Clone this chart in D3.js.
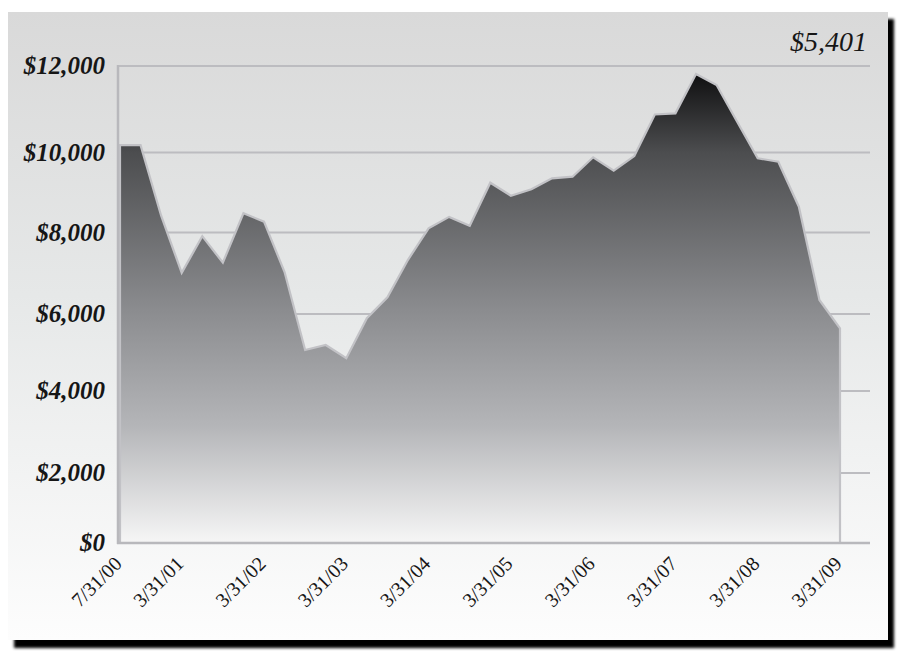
<!DOCTYPE html>
<html>
<head>
<meta charset="utf-8">
<script src="https://cdn.jsdelivr.net/npm/d3@7"></script>
<style>
  html, body { margin: 0; padding: 0; background: #fff; }
  svg { display: block; }
</style>
</head>
<body>
<div id="chart"></div>
<script>
// quarter-end dates, one point each (category axis, evenly spaced)
const dates = ["7/31/00","9/30/00","12/31/00",
  "3/31/01","6/30/01","9/30/01","12/31/01",
  "3/31/02","6/30/02","9/30/02","12/31/02",
  "3/31/03","6/30/03","9/30/03","12/31/03",
  "3/31/04","6/30/04","9/30/04","12/31/04",
  "3/31/05","6/30/05","9/30/05","12/31/05",
  "3/31/06","6/30/06","9/30/06","12/31/06",
  "3/31/07","6/30/07","9/30/07","12/31/07",
  "3/31/08","6/30/08","9/30/08","12/31/08",
  "3/31/09"];

const values = [10170, 10170, 8420,
  7010, 7910, 7260, 8480,
  8270, 7030, 5065, 5195,
  4850, 5890, 6410, 7330,
  8105, 8390, 8170, 9245,
  8920, 9080, 9355, 9395,
  9880, 9545, 9910, 10880,
  10905, 11815, 11560, 10710,
  9855, 9770, 8645, 6345,
  5630];

const tickLabels = ["7/31/00","3/31/01","3/31/02","3/31/03","3/31/04",
  "3/31/05","3/31/06","3/31/07","3/31/08","3/31/09"];
const yTicks = [0, 2000, 4000, 6000, 8000, 10000, 12000];
const lastLabel = "$5,401";

const W = 897, H = 651;
const svg = d3.select("#chart").append("svg")
  .attr("width", W).attr("height", H);

const defs = svg.append("defs");

var bg = defs.append("linearGradient").attr("id", "bg")
  .attr("x1", 0).attr("y1", 0).attr("x2", 0).attr("y2", 1);
bg.append("stop").attr("offset", "0%").attr("stop-color", "#d9d9d9");
bg.append("stop").attr("offset", "45%").attr("stop-color", "#e6e8e8");
bg.append("stop").attr("offset", "100%").attr("stop-color", "#fdfdfd");

var fillGrad = defs.append("linearGradient").attr("id", "areaFill")
  .attr("gradientUnits", "userSpaceOnUse")
  .attr("x1", 0).attr("y1", 72).attr("x2", 0).attr("y2", 543);
fillGrad.append("stop").attr("offset", "0%").attr("stop-color", "#0e0e0f");
fillGrad.append("stop").attr("offset", "17%").attr("stop-color", "#4c4d4f");
fillGrad.append("stop").attr("offset", "50%").attr("stop-color", "#8a8b8e");
fillGrad.append("stop").attr("offset", "75%").attr("stop-color", "#b4b5b8");
fillGrad.append("stop").attr("offset", "100%").attr("stop-color", "#f6f6f6");

var blur = defs.append("filter").attr("id", "blur")
  .attr("x", "-5%").attr("y", "-5%").attr("width", "110%").attr("height", "110%");
blur.append("feGaussianBlur").attr("stdDeviation", 1.5);

// card + drop shadow
svg.append("rect")
  .attr("x", 14).attr("y", 19).attr("width", 880).attr("height", 629)
  .attr("fill", "#000").attr("filter", "url(#blur)");
svg.append("rect")
  .attr("x", 8).attr("y", 12).attr("width", 880).attr("height", 628)
  .attr("fill", "url(#bg)");

// scales
const x = d3.scalePoint().domain(dates).range([120, 840]);
// the gridlines in the original are not quite evenly spaced
const y = d3.scaleLinear().domain(yTicks)
  .range([543, 473, 391, 314, 232.5, 152.5, 66]);

const gridColor = "#bcbcc0";

// gridlines
svg.append("g")
  .selectAll("line")
  .data(yTicks.filter(d => d > 0))
  .join("line")
  .attr("x1", 118).attr("x2", 870)
  .attr("y1", d => y(d)).attr("y2", d => y(d))
  .attr("stroke", gridColor).attr("stroke-width", 2.2);

// area
const area = d3.area()
  .x((d, i) => x(dates[i]))
  .y0(y(0))
  .y1(d => y(d));

svg.append("path")
  .datum(values)
  .attr("d", area)
  .attr("fill", "url(#areaFill)")
  .attr("stroke", "#c2c2c6")
  .attr("stroke-width", 2.2)
  .attr("stroke-linejoin", "miter");

// axes lines
svg.append("line")
  .attr("x1", 118).attr("x2", 118).attr("y1", y(12000) - 1).attr("y2", y(0) + 1)
  .attr("stroke", "#b8b8bc").attr("stroke-width", 2.5);
svg.append("line")
  .attr("x1", 117).attr("x2", 870).attr("y1", y(0)).attr("y2", y(0))
  .attr("stroke", "#b8b8bc").attr("stroke-width", 2.5);

// y labels
svg.append("g")
  .selectAll("text")
  .data(yTicks)
  .join("text")
  .attr("x", 105)
  .attr("y", d => y(d))
  .attr("dy", "0.32em")
  .attr("text-anchor", "end")
  .attr("font-family", "'Liberation Serif', serif")
  .attr("font-style", "italic")
  .attr("font-weight", "bold")
  .attr("font-size", 25)
  .attr("fill", "#161616")
  .text(d => "$" + d3.format(",")(d));

// x labels
svg.append("g")
  .selectAll("text")
  .data(tickLabels)
  .join("text")
  .attr("transform", d => "translate(" + (x(d) + 3) + "," + 565 + ") rotate(-45)")
  .attr("text-anchor", "end")
  .attr("font-family", "'Liberation Serif', serif")
  .attr("font-size", 20)
  .attr("fill", "#161616")
  .text(d => d);

// last value
svg.append("text")
  .attr("x", 867).attr("y", 51)
  .attr("text-anchor", "end")
  .attr("font-family", "'Liberation Serif', serif")
  .attr("font-style", "italic")
  .attr("font-size", 28)
  .attr("fill", "#161616")
  .text(lastLabel);
</script>
</body>
</html>
